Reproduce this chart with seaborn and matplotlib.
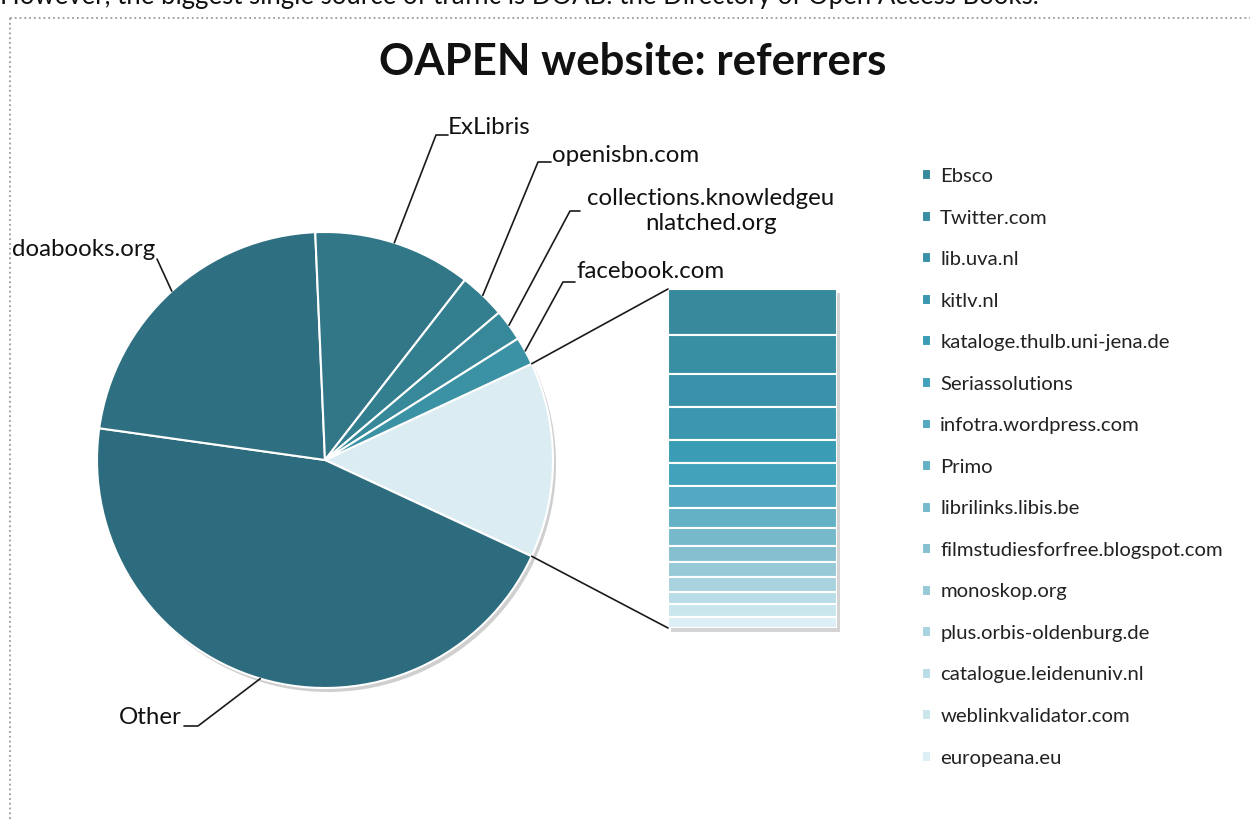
import matplotlib
matplotlib.use("Agg")
import matplotlib.pyplot as plt
import numpy as np
import seaborn as sns
from matplotlib.lines import Line2D
from matplotlib.patches import ConnectionPatch, Circle, Rectangle

# share of referral traffic (%) - slices of the main pie
pie_labels = ["Other", "doabooks.org", "ExLibris", "openisbn.com",
              "collections.knowledgeu\nnlatched.org", "facebook.com"]
pie_values = [45.3, 22.1, 11.2, 3.3, 2.25, 2.0]

# the small referrers, split out into the stacked bar (top to bottom)
bar_labels = ["Ebsco", "Twitter.com", "lib.uva.nl", "kitlv.nl",
              "kataloge.thulb.uni-jena.de", "Seriassolutions",
              "infotra.wordpress.com", "Primo", "librilinks.libis.be",
              "filmstudiesforfree.blogspot.com", "monoskop.org",
              "plus.orbis-oldenburg.de", "catalogue.leidenuniv.nl",
              "weblinkvalidator.com", "europeana.eu"]
bar_values = [1.87, 1.61, 1.37, 1.32, 0.96, 0.93, 0.90, 0.83,
              0.75, 0.62, 0.65, 0.58, 0.50, 0.55, 0.44]

title = "OAPEN website: referrers"
intro = ("However, the biggest single source of traffic is DOAB: "
         "the Directory of Open Access Books.")

W, H = 1250, 819
sns.set_theme(style="white")
plt.rcParams["font.family"] = ["Lato", "DejaVu Sans"]

fig = plt.figure(figsize=(W / 100, H / 100), dpi=100)
ax = fig.add_axes([0, 0, 1, 1])

# pie geometry (pixels, y measured from top)
cx, cy, r = 325, H - 460, 228
pie_colors = ["#2d6c7e", "#2e6f82", "#317788", "#347f8f", "#37899a", "#3a92a4"]
group_color = "#dbedf2"

group_total = sum(bar_values)
values = [group_total] + pie_values
group_deg = 360 * group_total / sum(values)

# soft drop shadow under the pie
ax.add_patch(Circle((cx + 3, cy - 4), r, color="#cfcfcf", zorder=0, lw=0))

wedges, _ = ax.pie(values, colors=[group_color] + pie_colors,
                   startangle=group_deg / 2, counterclock=False,
                   center=(cx, cy), radius=r,
                   wedgeprops=dict(edgecolor="white", linewidth=1.5))
ax.set_xlim(0, W)
ax.set_ylim(0, H)
ax.set_aspect("equal")
ax.axis("off")

# label placement: elbow of leader, end of leader, text anchor (pixel coords)
label_layout = {
    "Other": ((198, 726), (184, 726), (182, 717), "right"),
    "doabooks.org": ((157, 259), (157, 259), (155, 250), "right"),
    "ExLibris": ((436, 135), (448, 135), (448, 127), "left"),
    "openisbn.com": ((538, 162), (551, 162), (552, 155), "left"),
    "collections.knowledgeu\nnlatched.org": ((570, 211), (580, 211), (711, 211), "center"),
    "facebook.com": ((563, 282), (575, 282), (576, 272), "left"),
}

for w, lab in zip(wedges[1:], pie_labels):
    mid = np.deg2rad((w.theta1 + w.theta2) / 2)
    ex, ey = cx + r * np.cos(mid), cy + r * np.sin(mid)
    (elx, ely), (enx, eny), (tx, ty), ha = label_layout[lab]
    ax.plot([ex, elx, enx], [ey, H - ely, H - eny], color="#1a1a1a", lw=1.2)
    ax.text(tx, H - ty, lab, ha=ha, va="center", fontsize=17.3,
            color="#111111", linespacing=1.25, multialignment="center")

# stacked bar of the small referrers
bar_top, bar_bot, bar_left, bar_right = 289, 628, 668, 837
ax.add_patch(Rectangle((bar_left + 3, H - bar_bot - 4), bar_right - bar_left,
                       bar_bot - bar_top, color="#d4d4d4", lw=0, zorder=0))
ax_bar = fig.add_axes([bar_left / W, (H - bar_bot) / H,
                       (bar_right - bar_left) / W, (bar_bot - bar_top) / H])
bar_colors = sns.blend_palette(["#37899c", "#3c9fba", "#8cc3d2", "#dbeff4"],
                               n_colors=len(bar_values))
handles = []
bottom = group_total
for v, c in zip(bar_values, bar_colors):
    bottom -= v
    b = ax_bar.bar(0, v, bottom=bottom, width=1, color=c,
                   edgecolor="white", linewidth=1.5)
    handles.append(b[0])
ax_bar.set_xlim(-0.5, 0.5)
ax_bar.set_ylim(0, group_total)
ax_bar.axis("off")

# connector lines from the split slice to the bar
for ang, ybar in [(group_deg / 2, group_total), (-group_deg / 2, 0)]:
    a = np.deg2rad(ang)
    con = ConnectionPatch(xyA=(cx + r * np.cos(a), cy + r * np.sin(a)),
                          coordsA=ax.transData,
                          xyB=(-0.5, ybar), coordsB=ax_bar.transData,
                          color="#1a1a1a", lw=1.2)
    fig.add_artist(con)

fig.legend(handles, bar_labels, loc="upper left",
           bbox_to_anchor=(922 / W, 1 - 168 / H), frameon=False,
           fontsize=14.6, handlelength=0.45, handleheight=0.45,
           handletextpad=0.45, labelspacing=1.21, borderpad=0,
           borderaxespad=0, labelcolor="#222222")

fig.text(633 / W, 1 - 62 / H, title, ha="center", va="center",
         fontsize=31.5, fontweight="bold", color="#111111")
fig.text(0, 1 - 4 / H, intro, ha="left", va="baseline", fontsize=18.5,
         color="#111111")

# chart-area border (dotted, as in the spreadsheet export)
fig.add_artist(Line2D([10 / W, 10 / W], [0, 1 - 18 / H], transform=fig.transFigure,
                      color="#9a9a9a", lw=1.3, ls=":"))
fig.add_artist(Line2D([10 / W, 1], [1 - 18 / H, 1 - 18 / H], transform=fig.transFigure,
                      color="#9a9a9a", lw=1.3, ls=":"))

fig.savefig("out.png", dpi=100)
